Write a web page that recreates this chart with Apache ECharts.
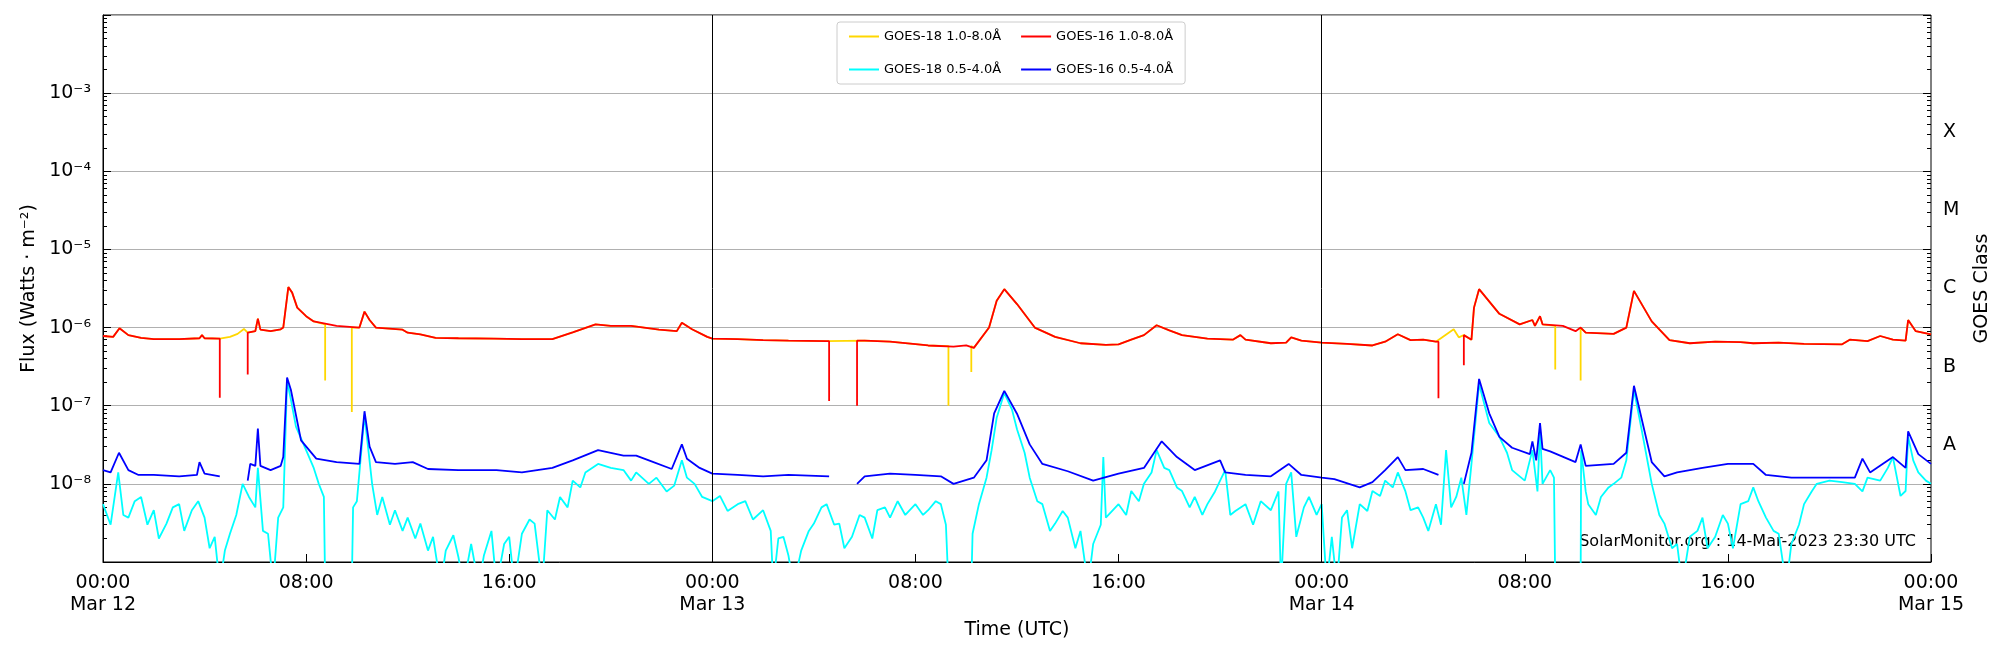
<!DOCTYPE html>
<html>
<head>
    <meta charset="UTF-8">
    <title>GOES X-ray Flux</title>
    <script src="https://cdn.jsdelivr.net/npm/echarts/dist/echarts.min.js"></script>
</head>
<body style="margin:0">
    <div id="chart" style="width: 2000px; height: 650px;"></div>

    <script type="text/javascript">
        // hours since 2023-03-12 00:00 UTC, flux in W/m^2
        var dayLabels = ['Mar 12', 'Mar 13', 'Mar 14', 'Mar 15'];
        var classLabels = { '-7.5': 'A', '-6.5': 'B', '-5.5': 'C', '-4.5': 'M', '-3.5': 'X' };

        // GOES 1.0-8.0 A channel, common to both satellites
        var longBase = [
            [0,7.8e-7],[0.4,7.6e-7],[0.65,9.8e-7],[1,8e-7],[1.5,7.4e-7],[2,7.1e-7],[3,7.1e-7],[3.8,7.3e-7],[3.9,8e-7],[4,7.3e-7],[4.6,7.2e-7],[5,7.6e-7],[5.3,8.3e-7],[5.55,9.6e-7],[5.7,8.6e-7],[6.0,9e-7],[6.1,1.3e-6],[6.2,9.4e-7],[6.6,9.0e-7],[7.0,9.5e-7],[7.1,1.0e-6],[7.3,3.3e-6],[7.45,2.8e-6],[7.65,1.8e-6],[8,1.4e-6],[8.3,1.2e-6],[9.2,1.05e-6],[10.1,1.0e-6],[10.3,1.6e-6],[10.5,1.25e-6],[10.75,1.0e-6],[11.8,9.4e-7],[12,8.6e-7],[12.5,8.2e-7],[13.1,7.4e-7],[14,7.3e-7],[15.4,7.2e-7],[16.5,7.1e-7],[17.7,7.1e-7],[18.5,8.7e-7],[19.4,1.1e-6],[20,1.05e-6],[20.8,1.05e-6],[21.9,9.4e-7],[22.6,9.0e-7],[22.8,1.15e-6],[23.2,9.5e-7],[23.8,7.6e-7],
            [24,7.2e-7],[25,7.1e-7],[26,6.9e-7],[27,6.8e-7],[28.5,6.7e-7],[30,6.8e-7],[31,6.6e-7],[32.5,5.9e-7],[33.5,5.7e-7],[34,5.9e-7],[34.3,5.5e-7],[34.9,1.0e-6],[35.2,2.2e-6],[35.5,3.1e-6],[36,2.0e-6],[36.7,1.0e-6],[37.5,7.6e-7],[38.5,6.3e-7],[39.5,6.0e-7],[40,6.1e-7],[40.5,7e-7],[41,8e-7],[41.5,1.07e-6],[42,9.2e-7],[42.5,8e-7],[43.5,7.2e-7],[44.5,7.0e-7],[44.8,8.0e-7],[45,7.0e-7],[46,6.3e-7],[46.6,6.4e-7],[46.8,7.5e-7],[47.2,6.8e-7],[48,6.4e-7],
            [49,6.2e-7],[50,5.9e-7],[50.5,6.6e-7],[51,8.2e-7],[51.5,6.9e-7],[52,7.0e-7],[52.5,6.6e-7],[53.2,9.5e-7],[53.4,7.5e-7],[53.6,8e-7],[53.9,7.0e-7],[54,1.8e-6],[54.2,3.1e-6],[55,1.5e-6],[55.8,1.1e-6],[56.3,1.25e-6],[56.4,1.05e-6],[56.6,1.4e-6],[56.7,1.1e-6],[57.5,1.05e-6],[58,9e-7],[58.2,1.0e-6],[58.4,8.6e-7],[59.5,8.3e-7],[60,1.0e-6],[60.3,2.95e-6],[61,1.2e-6],[61.7,6.9e-7],[62.5,6.3e-7],[63.5,6.6e-7],[64.5,6.5e-7],[65,6.3e-7],[66,6.4e-7],[67,6.2e-7],[68.5,6.1e-7],[68.8,7.0e-7],[69.5,6.7e-7],[70,7.8e-7],[70.5,7.0e-7],[71,6.8e-7],[71.1,1.25e-6],[71.4,9.0e-7],[72,8.2e-7]
        ];
        // data gaps: [start, end], with the spike each channel shows at the gap edges [hour, level, dip]
        var g16Gaps = [[4.6,5.7],[28.6,29.7],[52.6,53.6]];
        var g18Gaps = [[8.75,9.8],[33.3,34.2],[57.2,58.2]];
        var g16LongDips = [[4.6,7.2e-7,1.26e-7],[5.7,8.6e-7,2.5e-7],[28.6,6.7e-7,1.15e-7],[29.7,6.8e-7,1.0e-7],[52.6,6.6e-7,1.25e-7],[53.6,8e-7,3.3e-7]];
        var g18LongDips = [[8.75,1.1e-6,2.1e-7],[9.8,1.0e-6,8.3e-8],[33.3,5.8e-7,1.0e-7],[34.2,5.8e-7,2.7e-7],[57.2,1.05e-6,2.9e-7],[58.2,1.0e-6,2.1e-7]];

        var g16Short = [
            [0,1.5e-8],[0.3,1.4e-8],[0.63,2.5e-8],[1,1.5e-8],[1.4,1.3e-8],[2,1.3e-8],[3,1.25e-8],[3.7,1.3e-8],[3.8,1.9e-8],[4,1.35e-8],[4.6,1.25e-8],
            [5.7,1.1e-8],[5.8,1.8e-8],[6,1.7e-8],[6.1,5.1e-8],[6.2,1.7e-8],[6.6,1.5e-8],[7,1.7e-8],[7.1,2.2e-8],[7.25,2.3e-7],[7.4,1.6e-7],[7.8,3.6e-8],[8.4,2.1e-8],[9.2,1.9e-8],[10.1,1.8e-8],[10.3,8.5e-8],[10.5,3e-8],[10.75,1.9e-8],[11.5,1.8e-8],[12.2,1.9e-8],[12.8,1.55e-8],[14,1.5e-8],[15.5,1.5e-8],[16.5,1.4e-8],[17.7,1.6e-8],[18.5,2.0e-8],[19.5,2.7e-8],[20.5,2.3e-8],[21,2.3e-8],[21.5,2.0e-8],[22.4,1.55e-8],[22.8,3.2e-8],[23,2.1e-8],[23.5,1.6e-8],[24,1.35e-8],
            [25,1.3e-8],[26,1.25e-8],[27,1.3e-8],[28.6,1.25e-8],[29.7,1.0e-8],[30,1.25e-8],[31,1.35e-8],[32,1.3e-8],[33,1.25e-8],[33.5,1.0e-8],[34.3,1.2e-8],[34.8,2.0e-8],[35.1,8e-8],[35.5,1.55e-7],[36,7.9e-8],[36.5,3.2e-8],[37,1.8e-8],[38,1.45e-8],[39,1.1e-8],[40,1.35e-8],[41,1.6e-8],[41.7,3.5e-8],[42.3,2.2e-8],[43,1.5e-8],[44,2.0e-8],[44.2,1.4e-8],[45,1.3e-8],[46,1.25e-8],[46.7,1.8e-8],[47.2,1.3e-8],[48,1.2e-8],
            [48.5,1.15e-8],[49.5,9e-9],[50,1.05e-8],[50.5,1.5e-8],[51,2.2e-8],[51.3,1.5e-8],[52,1.55e-8],[52.6,1.3e-8],[53.6,1.0e-8],[53.9,2.5e-8],[54.2,2.2e-7],[54.6,8e-8],[55,4e-8],[55.5,2.9e-8],[56.2,2.4e-8],[56.3,3.5e-8],[56.45,2e-8],[56.6,6e-8],[56.7,2.8e-8],[57,2.6e-8],[58,1.9e-8],[58.2,3.2e-8],[58.4,1.7e-8],[59.5,1.8e-8],[60,2.5e-8],[60.3,1.8e-7],[61,1.9e-8],[61.5,1.25e-8],[62,1.4e-8],[63,1.6e-8],[64,1.8e-8],[65,1.8e-8],[65.5,1.3e-8],[66.5,1.2e-8],[68,1.2e-8],[69,1.2e-8],[69.3,2.1e-8],[69.6,1.4e-8],[70.5,2.2e-8],[71,1.6e-8],[71.1,4.7e-8],[71.5,2.4e-8],[72,1.8e-8]
        ];

        var g18Short = [
            [0,5.5e-9],[0.3,3e-9],[0.6,1.4e-8],[0.8,4e-9],[1,3.7e-9],[1.25,6e-9],[1.5,6.8e-9],[1.75,3e-9],[2,4.6e-9],[2.2,2e-9],[2.5,3.1e-9],[2.75,5e-9],[3,5.5e-9],[3.2,2.5e-9],[3.5,4.6e-9],[3.75,6e-9],[4,3.7e-9],[4.2,1.5e-9],[4.4,2.1e-9],[4.6,5e-10],[4.8,1.4e-9],[5,2.3e-9],[5.25,4e-9],[5.5,1e-8],[5.75,6.8e-9],[6,5e-9],[6.1,1.6e-8],[6.3,2.5e-9],[6.5,2.3e-9],[6.7,5e-10],[6.9,3.7e-9],[7.1,5e-9],[7.25,2.1e-7],[7.4,1.2e-7],[7.6,5.4e-8],[8,2.7e-8],[8.3,1.6e-8],[8.5,1e-8],[8.7,6.8e-9],[8.75,5e-10],
            [9.8,5e-10],[9.85,5e-9],[10,6e-9],[10.3,7.6e-8],[10.6,1e-8],[10.8,4e-9],[11,6.8e-9],[11.3,3e-9],[11.5,4.6e-9],[11.8,2.5e-9],[12,3.7e-9],[12.3,2e-9],[12.5,3.1e-9],[12.8,1.4e-9],[13,2.1e-9],[13.3,5e-10],[13.5,1.4e-9],[13.8,2.2e-9],[14,1.15e-9],[14.2,5e-10],[14.5,1.7e-9],[14.8,5e-10],[15,1.2e-9],[15.3,2.5e-9],[15.5,5e-10],[15.8,1.7e-9],[16,2.1e-9],[16.2,5e-10],[16.5,2.3e-9],[16.8,3.5e-9],[17,3.1e-9],[17.3,5e-10],[17.5,4.6e-9],[17.8,3.5e-9],[18,6.8e-9],[18.3,5e-9],[18.5,1.1e-8],[18.8,9e-9],[19,1.4e-8],[19.5,1.8e-8],[20,1.6e-8],[20.5,1.5e-8],[20.8,1.1e-8],[21,1.4e-8],[21.5,1e-8],[21.8,1.2e-8],[22.2,8e-9],[22.5,9.5e-9],[22.8,2.0e-8],[23,1.2e-8],[23.3,1e-8],[23.6,6.8e-9],[24,6e-9],
            [24.3,7e-9],[24.6,4.5e-9],[25,5.5e-9],[25.3,6e-9],[25.6,3.5e-9],[26,4.6e-9],[26.3,2.5e-9],[26.4,5e-10],[26.6,2e-9],[26.8,2.1e-9],[27,1.2e-9],[27.2,5e-10],[27.5,1.4e-9],[27.8,2.5e-9],[28,3.1e-9],[28.3,5e-9],[28.5,5.5e-9],[28.8,3e-9],[29,3.1e-9],[29.2,1.5e-9],[29.5,2.1e-9],[29.8,4e-9],[30,3.7e-9],[30.3,2e-9],[30.5,4.6e-9],[30.8,5e-9],[31,3.7e-9],[31.3,6e-9],[31.6,4e-9],[32,5.5e-9],[32.3,4e-9],[32.5,4.6e-9],[32.8,6e-9],[33,5.5e-9],[33.2,3e-9],[33.3,5e-10],
            [34.2,5e-10],[34.25,2.3e-9],[34.5,5.5e-9],[34.8,1.2e-8],[35,2.7e-8],[35.2,7e-8],[35.5,1.45e-7],[35.8,9e-8],[36,5e-8],[36.3,2.5e-8],[36.5,1.2e-8],[36.8,6e-9],[37,5.5e-9],[37.3,2.5e-9],[37.5,3.1e-9],[37.8,4.5e-9],[38,3.7e-9],[38.3,1.5e-9],[38.5,2.5e-9],[38.8,5e-10],[39,1.7e-9],[39.3,3e-9],[39.4,2.2e-8],[39.5,3.7e-9],[40,5.5e-9],[40.3,4e-9],[40.5,8.1e-9],[40.8,6e-9],[41,1e-8],[41.3,1.4e-8],[41.5,2.7e-8],[41.8,1.6e-8],[42,1.5e-8],[42.3,9e-9],[42.5,8.1e-9],[42.8,5e-9],[43,6.8e-9],[43.3,4e-9],[43.5,5.5e-9],[43.8,8e-9],[44,1.1e-8],[44.2,1.5e-8],[44.4,4e-9],[44.6,4.5e-9],[45,5.5e-9],[45.3,3e-9],[45.6,6e-9],[46,4.6e-9],[46.3,8e-9],[46.4,5e-10],[46.6,1e-8],[46.8,1.4e-8],[47,2.1e-9],[47.3,5e-9],[47.5,6.8e-9],[47.8,4e-9],[48,5.5e-9],
            [48.2,5e-10],[48.4,2.1e-9],[48.6,5e-10],[48.8,3.7e-9],[49,4.6e-9],[49.2,1.5e-9],[49.5,5.5e-9],[49.8,4.5e-9],[50,8.1e-9],[50.3,7e-9],[50.5,1.1e-8],[50.8,9e-9],[51,1.4e-8],[51.3,8e-9],[51.5,4.6e-9],[51.8,5e-9],[52,3.7e-9],[52.2,2.5e-9],[52.5,5.5e-9],[52.7,3e-9],[52.9,2.7e-8],[53.1,5e-9],[53.3,6.8e-9],[53.5,1.2e-8],[53.7,4e-9],[53.9,1.8e-8],[54.2,1.9e-7],[54.6,6e-8],[55,4e-8],[55.3,2.5e-8],[55.5,1.5e-8],[56,1.1e-8],[56.3,2.7e-8],[56.5,8e-9],[56.6,5e-8],[56.7,1e-8],[57,1.5e-8],[57.15,1.2e-8],[57.2,5e-10],
            [58.2,5e-10],[58.22,2.7e-8],[58.4,8e-9],[58.5,5.5e-9],[58.8,4e-9],[59,6.8e-9],[59.3,9e-9],[59.5,1e-8],[59.8,1.2e-8],[60,2e-8],[60.3,1.6e-7],[60.6,5e-8],[61,1e-8],[61.3,4e-9],[61.5,3.1e-9],[61.8,1.5e-9],[62,1.7e-9],[62.2,5e-10],[62.5,2.1e-9],[62.8,2.5e-9],[63,3.7e-9],[63.2,1.5e-9],[63.5,2.1e-9],[63.8,4e-9],[64,3.1e-9],[64.2,1.5e-9],[64.5,5.5e-9],[64.8,6e-9],[65,9e-9],[65.2,6e-9],[65.5,3.7e-9],[65.8,2.5e-9],[66,2.3e-9],[66.3,5e-10],[66.5,1.7e-9],[66.8,3e-9],[67,5.5e-9],[67.3,8e-9],[67.5,1e-8],[68,1.1e-8],[68.5,1.05e-8],[69,1e-8],[69.3,8e-9],[69.5,1.2e-8],[70,1.1e-8],[70.3,1.6e-8],[70.5,2.2e-8],[70.8,7e-9],[71,8.1e-9],[71.1,4e-8],[71.3,2e-8],[71.5,1.4e-8],[71.8,1.1e-8],[72,1e-8]
        ];

        // drop points inside data gaps, add the edge spikes, break the line in each gap
        function build(base, gaps, dips) {
            var pts = [];
            base.forEach(function (p) {
                if (gaps.some(function (g) { return p[0] > g[0] && p[0] < g[1]; })) return;
                var atEnd = gaps.some(function (g) { return p[0] === g[1]; });
                pts.push([p[0], p[1], atEnd ? 3 : 0]);
            });
            gaps.forEach(function (g) { pts.push([(g[0] + g[1]) / 2, '-', 1]); });
            dips.forEach(function (d) {
                var atStart = gaps.some(function (g) { return g[0] === d[0]; });
                pts.push([d[0], atStart ? d[1] : d[2], atStart ? 0 : 2]);
                pts.push([d[0], atStart ? d[2] : d[1], atStart ? 0.5 : 2.5]);
            });
            pts.sort(function (a, b) { return a[0] - b[0] || a[2] - b[2]; });
            return pts.map(function (p) { return [p[0], p[1]]; });
        }

        var myChart = echarts.init(document.getElementById('chart'));
        var font = 'DejaVu Sans';

        var option = {
            animation: false,
            textStyle: { fontFamily: font },
            grid: { left: 103, right: 64, top: 15, bottom: 88, show: true, borderColor: '#000', borderWidth: 1 },
            legend: {
                top: 22, left: 837, width: 380, itemGap: 20,
                padding: [8, 12], borderColor: '#ccc', borderWidth: 1, borderRadius: 3,
                itemWidth: 30, itemHeight: 2, icon: 'rect',
                textStyle: { fontSize: 13, color: '#000' },
                data: ['GOES-18 1.0-8.0Å', 'GOES-16 1.0-8.0Å', 'GOES-18 0.5-4.0Å', 'GOES-16 0.5-4.0Å']
            },
            xAxis: {
                type: 'value', min: 0, max: 72, interval: 8,
                name: 'Time (UTC)', nameLocation: 'middle', nameGap: 50,
                nameTextStyle: { fontSize: 19, color: '#000' },
                axisLine: { lineStyle: { color: '#000' } },
                axisTick: { inside: true, length: 8, lineStyle: { color: '#000' } },
                splitLine: { show: false },
                axisLabel: {
                    fontSize: 19, color: '#000', margin: 10, lineHeight: 22,
                    formatter: function (v) {
                        var h = v % 24;
                        if (h === 0) return '00:00\n' + dayLabels[v / 24];
                        return (h < 10 ? '0' : '') + h + ':00';
                    }
                }
            },
            yAxis: [{
                type: 'log', logBase: 10, min: 1e-9, max: 1e-2,
                name: 'Flux (Watts · m⁻²)', nameLocation: 'middle', nameGap: 62,
                nameTextStyle: { fontSize: 19, color: '#000' },
                axisLine: { lineStyle: { color: '#000' } },
                axisTick: { inside: true, length: 8, lineStyle: { color: '#000' } },
                minorTick: { show: true, splitNumber: 9, length: 4, lineStyle: { color: '#000' } },
                splitLine: { show: true, lineStyle: { color: '#b0b0b0', width: 1 } },
                axisLabel: {
                    fontSize: 19, color: '#000', margin: 12,
                    formatter: function (v) {
                        var e = Math.round(Math.log10(v));
                        if (e < -8 || e > -3) return '';
                        return '10⁻' + String(-e).split('').map(function (d) { return '⁰¹²³⁴⁵⁶⁷⁸⁹'[+d]; }).join('');
                    }
                }
            }, {
                type: 'log', logBase: 10, min: 1e-9, max: 1e-2, position: 'right',
                axisLine: { show: false },
                axisTick: { inside: true, length: 8, lineStyle: { color: '#000' } },
                minorTick: { show: true, splitNumber: 9, length: 4, lineStyle: { color: '#000' } },
                splitLine: { show: false }, axisLabel: { show: false }
            }, {
                type: 'value', min: -9, max: -2, interval: 0.5, position: 'right',
                name: 'GOES Class', nameLocation: 'middle', nameGap: 42, nameRotate: 90,
                nameTextStyle: { fontSize: 19, color: '#000' },
                axisLine: { show: false }, axisTick: { show: false }, splitLine: { show: false },
                axisLabel: {
                    fontSize: 19, color: '#000', margin: 12,
                    formatter: function (v) { return classLabels[String(v)] || ''; }
                }
            }],
            graphic: [{
                type: 'text', right: 84, top: 534,
                style: { text: 'SolarMonitor.org : 14-Mar-2023 23:30 UTC', fontSize: 16, fill: '#000', fontFamily: font }
            }],
            series: [{
                name: 'GOES-18 1.0-8.0Å', type: 'line', showSymbol: false, symbol: 'none',
                color: '#FFD700', lineStyle: { width: 1.8 },
                data: build(longBase, g18Gaps, g18LongDips)
            }, {
                name: 'GOES-16 1.0-8.0Å', type: 'line', showSymbol: false, symbol: 'none',
                color: '#FF0000', lineStyle: { width: 1.8 },
                data: build(longBase, g16Gaps, g16LongDips)
            }, {
                name: 'GOES-18 0.5-4.0Å', type: 'line', showSymbol: false, symbol: 'none',
                color: '#00FFFF', lineStyle: { width: 1.8 },
                data: build(g18Short, g18Gaps, [])
            }, {
                name: 'GOES-16 0.5-4.0Å', type: 'line', showSymbol: false, symbol: 'none',
                color: '#0000FF', lineStyle: { width: 1.8 },
                data: build(g16Short, g16Gaps, []),
                markLine: {
                    silent: true, symbol: 'none', label: { show: false },
                    lineStyle: { color: '#000', type: 'solid', width: 1 },
                    data: [{ xAxis: 24 }, { xAxis: 48 }]
                }
            }]
        };

        myChart.setOption(option);
    </script>
</body>
</html>
